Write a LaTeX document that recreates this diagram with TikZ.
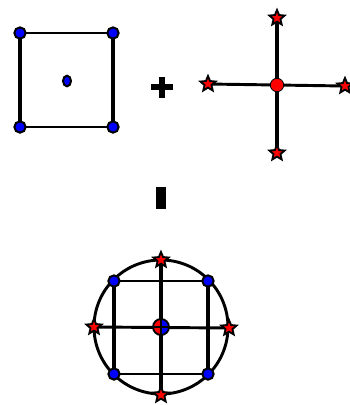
\documentclass[tikz,border=0pt]{standalone}
\usetikzlibrary{shapes.geometric}
\begin{document}
\begin{tikzpicture}[x=0.75pt,y=-0.75pt,
 bluedot/.style={circle,fill=blue,draw=black,line width=1.5pt,inner sep=0pt,minimum size=8.5pt},
 redstar/.style={star,star points=5,star point ratio=2.2,fill=red,draw=black,line width=1.4pt,inner sep=0pt,minimum size=12pt},
 thickline/.style={line width=3.6pt},
 thinline/.style={line width=2.2pt}]
\path[use as bounding box] (0,0) rectangle (350,405);
% ---- square
\coordinate (s1) at (20,33);
\coordinate (s2) at (113,33);
\coordinate (s3) at (113,127);
\coordinate (s4) at (20,127);
\coordinate (sc) at (67,81);
\draw[thinline] (s1) -- (s2);
\draw[thinline] (s4) -- (s3);
\draw[thickline] (s1) -- (s4);
\draw[thickline] (s2) -- (s3);
\foreach \c in {s1,s2,s3,s4} \node[bluedot] (n\c) at (\c) {};
\node[ellipse,fill=blue,draw=black,line width=1.5pt,inner sep=0pt,minimum width=6pt,minimum height=8pt] (nsc) at (sc) {};
% ---- plus sign
\fill (151,84) rectangle (173,90);
\fill (159,77) rectangle (165,98);
% ---- cross
\coordinate (cc) at (277,85);
\coordinate (ct) at (277,18);
\coordinate (cb) at (277,153);
\coordinate (cl) at (208,84);
\coordinate (cr) at (345,86);
\draw[thickline] (ct) -- (cb);
\draw[thinline] (cl) -- (cr);
\node[circle,fill=red,draw=black,line width=0.6pt,inner sep=0pt,minimum size=10pt] (ncc) at (cc) {};
\foreach \c in {ct,cb,cl,cr} \node[redstar] (n\c) at (\c) {};
% ---- equals bar
\fill (156,187) rectangle (166,209);
% ---- result
\coordinate (oc) at (161,327);
\coordinate (ot) at (161,260);
\coordinate (ob) at (161,395);
\coordinate (ol) at (94,327);
\coordinate (or) at (229,328);
\coordinate (q1) at (114,281);
\coordinate (q2) at (208,281);
\coordinate (q3) at (208,374);
\coordinate (q4) at (114,374);
\draw[thinline] (oc) circle[radius=67];
\draw[thinline] (q1) -- (q2);
\draw[thinline] (q4) -- (q3);
\draw[thickline] (q1) -- (q4);
\draw[thickline] (q2) -- (q3);
\draw[thickline] (ot) -- (ob);
\draw[thinline] (ol) -- (or);
\foreach \c in {q1,q2,q3,q4} \node[bluedot] (n\c) at (\c) {};
\foreach \c in {ot,ob,ol,or} \node[redstar] (n\c) at (\c) {};
\node[circle,draw=black,line width=1.4pt,inner sep=0pt,minimum size=12pt,
  path picture={\fill[red] (path picture bounding box.south west) rectangle (path picture bounding box.north);
                \fill[blue] (path picture bounding box.south) rectangle (path picture bounding box.north east);
                \draw[black,line width=1.2pt] (path picture bounding box.north) -- (path picture bounding box.south);
                \draw[black,line width=1.2pt] (path picture bounding box.west) -- (path picture bounding box.east);}] (noc) at (oc) {};
\end{tikzpicture}
\end{document}
